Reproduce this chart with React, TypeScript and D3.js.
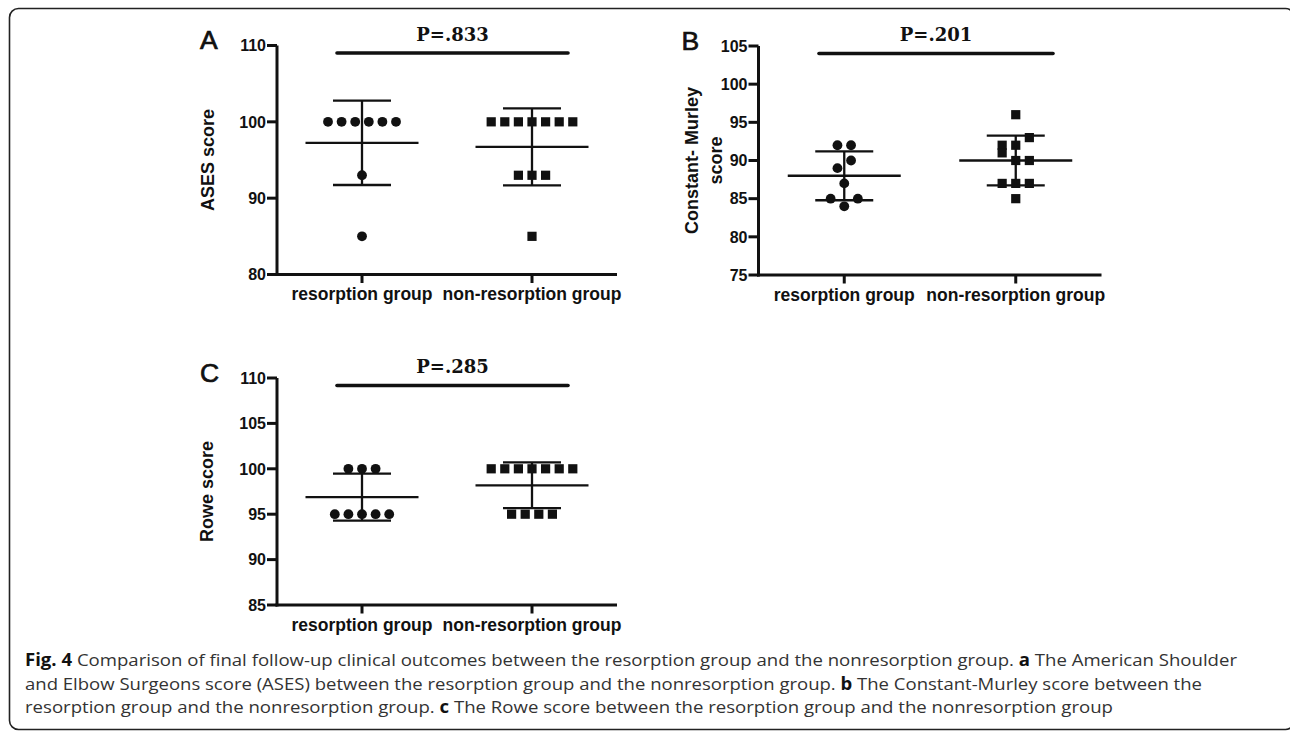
import React from "react";
import * as d3 from "d3";

// group names and scores
const groups = ["resorption group", "non-resorption group"];

const asesResorption = [100, 100, 100, 100, 100, 100, 93, 85];
const asesNonResorption = [100, 100, 100, 100, 100, 100, 100, 93, 93, 93, 85];
const constantResorption = [92, 92, 89, 90, 87, 85, 84, 85];
const constantNonResorption = [96, 92, 92, 93, 91, 90, 90, 87, 87, 87, 85];
const roweResorption = [100, 100, 100, 95, 95, 95, 95, 95];
const roweNonResorption = [100, 100, 100, 100, 100, 100, 100, 95, 95, 95, 95];

const asesTicks = [80, 90, 100, 110];
const constantTicks = [75, 80, 85, 90, 95, 100, 105];
const roweTicks = [85, 90, 95, 100, 105, 110];

const pLabels = ["P=.833", "P=.201", "P=.285"];
const panelLetters = ["A", "B", "C"];

const INK = "#111";
const STEP = 13.6; // horizontal spacing of markers in a row

// spread points that share (nearly) the same height into centred rows
function scatterOffsets(values: number[], y: (v: number) => number) {
  const order = d3.range(values.length).sort((a, b) => d3.descending(values[a], values[b]) || a - b);
  const rows: number[][] = [];
  order.forEach((i) => {
    const row = rows[rows.length - 1];
    if (row && Math.abs(y(values[row[0]]) - y(values[i])) < 9) row.push(i);
    else rows.push([i]);
  });
  const off = new Array(values.length).fill(0);
  rows.forEach((row) => {
    row.sort((a, b) => a - b);
    row.forEach((i, k) => (off[i] = (k - (row.length - 1) / 2) * STEP));
  });
  return off;
}

function Panel({ letter, pLabel, titles, titleX, ticks, res, non, left, right, top, bottom, barX }) {
  const x = d3.scalePoint().domain(groups).range([left, right]).padding(0.5);
  const y = d3.scaleLinear().domain(d3.extent(ticks)).range([bottom, top]);
  const series = [res, non];
  return (
    <g>
      <text x={left - 77} y={top + 3.5} fontFamily="Liberation Sans, Arial, sans-serif" fontSize={26.5}
        fill={INK} stroke={INK} strokeWidth={0.7}>
        {letter}
      </text>
      <text x={(barX[0] + barX[1]) / 2} y={top - 5} textAnchor="middle"
        fontFamily="DejaVu Serif, serif" fontWeight="bold" fontSize={18} fill={INK}>
        {pLabel}
      </text>
      <line x1={barX[0]} x2={barX[1]} y1={top + 7.5} y2={top + 7.5} stroke={INK} strokeWidth={3.6} strokeLinecap="round" />

      {/* axes */}
      <g stroke={INK} strokeWidth={3}>
        <line x1={left} x2={left} y1={top} y2={bottom + 1.5} />
        <line x1={left - 1.5} x2={right} y1={bottom} y2={bottom} />
        {ticks.map((t) => (
          <line key={t} x1={left - 10} x2={left} y1={y(t)} y2={y(t)} />
        ))}
        {groups.map((g) => (
          <line key={g} x1={x(g)} x2={x(g)} y1={bottom} y2={bottom + 8.5} />
        ))}
      </g>
      <g fontFamily="Liberation Sans, Arial, sans-serif" fontWeight="bold" fill={INK}>
        {ticks.map((t) => (
          <text key={t} x={left - 11} y={y(t)} dy="0.36em" textAnchor="end" fontSize={16}>{t}</text>
        ))}
        {groups.map((g) => (
          <text key={g} x={x(g)} y={bottom + 25.5} textAnchor="middle" fontSize={17.5}>{g}</text>
        ))}
        {titles.map((t, i) => (
          <text key={t} transform={`translate(${titleX[i]},${(top + bottom) / 2}) rotate(-90)`}
            textAnchor="middle" fontSize={18}>{t}</text>
        ))}
      </g>

      {/* points with mean and SD */}
      {series.map((vals, si) => {
        const cx = x(groups[si]);
        const off = scatterOffsets(vals, y);
        const m = d3.mean(vals);
        const sd = d3.deviation(vals);
        return (
          <g key={si} fill={INK}>
            {vals.map((v, i) =>
              si === 0 ? (
                <circle key={i} cx={cx + off[i]} cy={y(v)} r={4.9} />
              ) : (
                <rect key={i} x={cx + off[i] - 4.6} y={y(v) - 4.6} width={9.2} height={9.2} />
              )
            )}
            <g stroke={INK} strokeWidth={2.3}>
              <line x1={cx - 56.5} x2={cx + 56.5} y1={y(m)} y2={y(m)} />
              <line x1={cx} x2={cx} y1={y(m - sd)} y2={y(m + sd)} />
              <line x1={cx - 29} x2={cx + 29} y1={y(m + sd)} y2={y(m + sd)} />
              <line x1={cx - 29} x2={cx + 29} y1={y(m - sd)} y2={y(m - sd)} />
            </g>
          </g>
        );
      })}
    </g>
  );
}

export default function App() {
  const cap = { fontFamily: "Open Sans, Noto Sans, sans-serif", fontSize: 17, fill: "#333" };
  return (
    <svg width={1290} height={732} style={{ position: "absolute", left: 0, top: 0 }}>
      <rect x={9.5} y={8.5} width={1285} height={721} rx={9} fill="white" stroke="#222" strokeWidth={1.6} />
      <Panel letter={panelLetters[0]} pLabel={pLabels[0]} titles={["ASES score"]} titleX={[214]}
        ticks={asesTicks} res={asesResorption} non={asesNonResorption}
        left={277} right={617} top={45.5} bottom={274.5} barX={[337, 568]} />
      <Panel letter={panelLetters[1]} pLabel={pLabels[1]} titles={["Constant- Murley", "score"]} titleX={[698, 722]}
        ticks={constantTicks} res={constantResorption} non={constantNonResorption}
        left={758.5} right={1101.5} top={46} bottom={275} barX={[819, 1053]} />
      <Panel letter={panelLetters[2]} pLabel={pLabels[2]} titles={["Rowe score"]} titleX={[213]}
        ticks={roweTicks} res={roweResorption} non={roweNonResorption}
        left={277} right={617} top={378} bottom={605} barX={[337, 568]} />

      <text x={25} y={666} {...cap} textLength={1212} lengthAdjust="spacingAndGlyphs">
        <tspan fontWeight="bold" fill="#111">Fig. 4</tspan>
        {" Comparison of final follow-up clinical outcomes between the resorption group and the nonresorption group. "}
        <tspan fontWeight="bold" fill="#111">a</tspan>
        {" The American Shoulder"}
      </text>
      <text x={25} y={690} {...cap} textLength={1177} lengthAdjust="spacingAndGlyphs">
        {"and Elbow Surgeons score (ASES) between the resorption group and the nonresorption group. "}
        <tspan fontWeight="bold" fill="#111">b</tspan>
        {" The Constant-Murley score between the"}
      </text>
      <text x={25} y={713} {...cap} textLength={1088} lengthAdjust="spacingAndGlyphs">
        {"resorption group and the nonresorption group. "}
        <tspan fontWeight="bold" fill="#111">c</tspan>
        {" The Rowe score between the resorption group and the nonresorption group"}
      </text>
    </svg>
  );
}
